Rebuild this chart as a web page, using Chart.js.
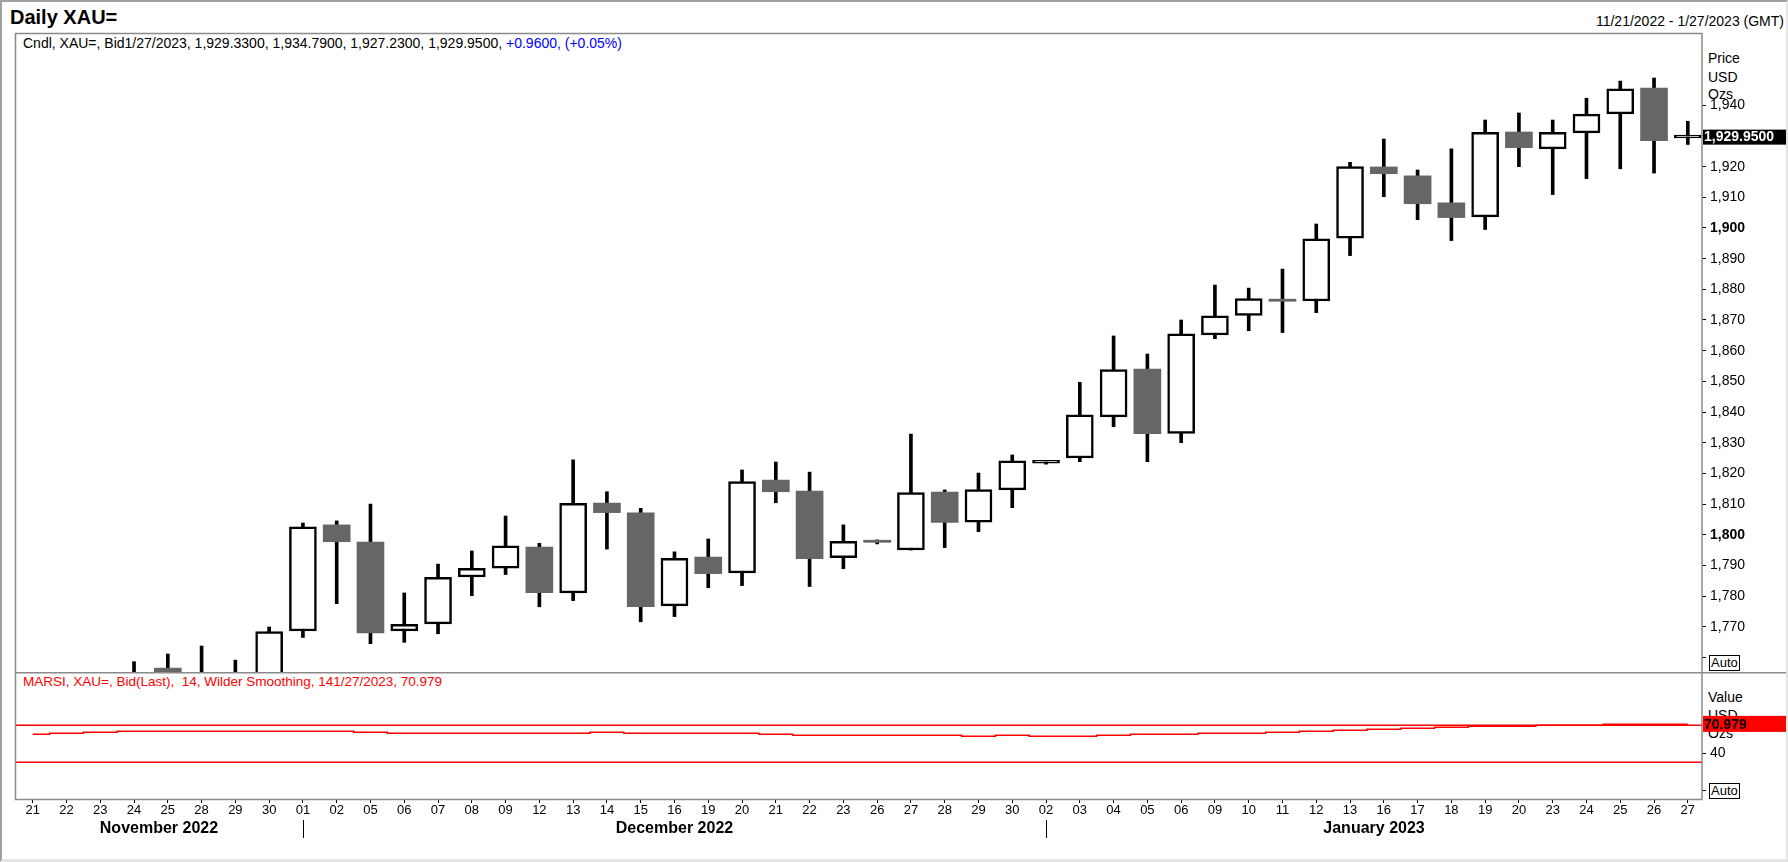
<!DOCTYPE html>
<html>
<head>
<meta charset="utf-8">
<script src="https://cdn.jsdelivr.net/npm/chart.js@4.4.1/dist/chart.umd.min.js"></script>
<style>
  body { margin: 0; background: #fff; }
  #wrap { position: relative; width: 1788px; height: 862px; overflow: hidden; font-family: "Liberation Sans", Arial, sans-serif; color: #000; }
  .lbl { position: absolute; white-space: nowrap; font-size: 14px; line-height: 16px; }
  .auto { position: absolute; font-size: 13px; line-height: 14px; border: 1px solid #000; padding: 0 1px; background: #fff; }
  canvas { position: absolute; left: 0; }
  #frame { position: absolute; left: 0; top: 0; width: 1788px; height: 862px; box-sizing: border-box;
           border-left: 2px solid #a0a0a0; border-top: 2px solid #a0a0a0;
           border-right: 2px solid #e4e4e4; border-bottom: 3px solid #e4e4e4; pointer-events: none; }
</style>
</head>
<body>
<div id="wrap">
  <div class="lbl" style="left:10px;top:6px;font-size:20px;line-height:22px;font-weight:bold;">Daily XAU=</div>
  <div class="lbl" style="right:4px;top:13px;">11/21/2022 - 1/27/2023 (GMT)</div>
  <div class="lbl" style="left:23px;top:35px;">Cndl, XAU=, Bid1/27/2023, 1,929.3300, 1,934.7900, 1,927.2300, 1,929.9500, <span style="color:#0000ff">+0.9600, (+0.05%)</span></div>
  <div class="lbl" style="left:23px;top:674px;color:#ff0000;font-size:13.5px;">MARSI, XAU=, Bid(Last),&nbsp; 14, Wilder Smoothing, 141/27/2023, 70.979</div>
  <div class="lbl" style="left:1708px;top:50px;">Price</div>
  <div class="lbl" style="left:1708px;top:69px;">USD</div>
  <div class="lbl" style="left:1708px;top:86px;">Ozs</div>
  <div class="lbl" style="left:1708px;top:689px;">Value</div>
  <div class="lbl" style="left:1708px;top:707px;">USD</div>
  <div class="lbl" style="left:1708px;top:725px;">Ozs</div>
  <div class="auto" style="left:1709px;top:655px;">Auto</div>
  <div class="auto" style="left:1709px;top:783px;">Auto</div>
  <canvas id="priceChart" width="1788" height="674" style="top:0;"></canvas>
  <canvas id="rsiChart" width="1788" height="190" style="top:672px;"></canvas>
  <div id="frame"></div>
</div>
<script>
const FONT = '"Liberation Sans", Arial, sans-serif';

const dayLabels = ['21','22','23','24','25','28','29','30',
  '01','02','05','06','07','08','09','12','13','14','15','16','19','20','21','22','23','26','27','28','29','30',
  '02','03','04','05','06','09','10','11','12','13','16','17','18','19','20','23','24','25','26','27'];
const monthNames = ['November 2022', 'December 2022', 'January 2023'];
const monthStarts = [0, 8, 30];

const opens = [1750.5, 1738.0, 1740.3, 1749.6, 1756.5, 1754.0, 1741.0, 1749.5,
  1768.6, 1803.2, 1797.6, 1768.6, 1770.9, 1786.2, 1789.1, 1796.0, 1781.0, 1810.3, 1807.1, 1776.8, 1792.7, 1787.5,
  1817.8, 1814.2, 1792.5, 1798.2, 1795.0, 1813.9, 1804.1, 1814.6,
  1823.3, 1825.0, 1838.4, 1854.0, 1833.0, 1865.1, 1871.5, 1876.8, 1876.2, 1896.7, 1919.9, 1917.0, 1908.2,
  1903.6, 1931.3, 1925.8, 1931.0, 1937.2, 1945.6, 1929.33];
const highs = [1754.0, 1746.0, 1754.5, 1758.6, 1761.1, 1763.7, 1759.1, 1769.9,
  1803.8, 1804.5, 1810.0, 1781.0, 1790.4, 1794.7, 1806.1, 1797.2, 1824.4, 1814.0, 1808.6, 1794.4, 1798.6, 1821.1,
  1823.7, 1820.4, 1803.2, 1798.3, 1832.8, 1814.6, 1820.1, 1826.0,
  1824.2, 1849.7, 1864.8, 1858.9, 1870.0, 1881.4, 1880.4, 1886.6, 1901.3, 1921.4, 1929.0, 1918.9, 1925.8,
  1935.2, 1937.5, 1935.2, 1942.3, 1947.9, 1948.9, 1934.79];
const lows = [1733.5, 1733.0, 1733.6, 1746.0, 1745.0, 1739.5, 1740.0, 1744.0,
  1766.5, 1777.5, 1764.5, 1764.9, 1767.7, 1780.1, 1787.0, 1776.5, 1778.5, 1795.3, 1771.6, 1773.3, 1782.7, 1783.4,
  1810.4, 1783.1, 1788.9, 1797.0, 1795.0, 1795.8, 1801.0, 1808.8,
  1823.0, 1823.8, 1835.2, 1823.8, 1830.0, 1863.9, 1866.5, 1865.9, 1872.4, 1891.0, 1910.2, 1902.7, 1895.9,
  1899.5, 1920.0, 1910.9, 1916.1, 1919.3, 1917.9, 1927.23];
const closes = [1737.9, 1740.3, 1749.6, 1754.7, 1754.0, 1741.0, 1749.5, 1768.4,
  1802.6, 1797.7, 1768.0, 1770.8, 1786.1, 1789.0, 1796.4, 1781.1, 1810.2, 1807.2, 1776.5, 1792.3, 1787.3, 1817.3,
  1814.0, 1792.2, 1797.8, 1797.5, 1813.7, 1804.0, 1814.7, 1824.1,
  1823.9, 1839.1, 1853.8, 1832.9, 1865.5, 1871.4, 1877.0, 1876.1, 1896.5, 1920.0, 1917.7, 1907.9, 1903.4,
  1931.2, 1926.2, 1931.2, 1937.1, 1945.4, 1928.5, 1929.95];

const rsiValues = [60.3, 61.4, 62.4, 63.5, 63.5, 63.5, 63.5, 63.5,
  63.5, 63.5, 62.4, 61.4, 61.4, 61.4, 61.4, 61.4, 61.4, 62.4, 61.4, 61.4, 61.4, 61.4,
  60.3, 59.2, 59.2, 59.2, 59.2, 59.2, 58.1, 59.2,
  58.1, 58.1, 59.2, 60.3, 60.3, 61.4, 61.4, 62.4, 63.5, 64.6, 65.7, 66.8, 67.9,
  69.0, 69.0, 70.0, 70.0, 71.0, 71.0, 70.979];
const rsiLevels = [70, 30];

const priceTicks = [1760, 1770, 1780, 1790, 1800, 1810, 1820, 1830, 1840, 1850, 1860, 1870, 1880, 1890, 1900, 1910, 1920, 1930, 1940];
const rsiTicks = [0, 40];

Chart.defaults.font.family = FONT;
Chart.defaults.color = '#000';

const idx = dayLabels.map((d, i) => i);
const xMin = -0.524, xMax = 49.42;
const last = idx.length - 1;

const wickData = idx.map(i => ({ x: i, y: [lows[i], highs[i]] }));
const upData = idx.filter(i => closes[i] >= opens[i]).map(i => ({ x: i, y: [opens[i], closes[i]] }));
const downData = idx.filter(i => closes[i] < opens[i]).map(i => ({ x: i, y: [opens[i], closes[i]] }));

// keep the axes from reserving room for half tick labels
function fixAxisY(s) { s.width = 86; s.paddingTop = 0; s.paddingBottom = 0; }
function fixAxisX(s) { s.height = 63; s.paddingLeft = 0; s.paddingRight = 0; }

const priceBox = {
  id: 'priceBox',
  afterDraw(chart) {
    const ctx = chart.ctx, a = chart.chartArea, ys = chart.scales.y;
    ctx.save();
    ctx.strokeStyle = '#8a8a8a';
    ctx.lineWidth = 1.5;
    ctx.beginPath();
    ctx.moveTo(a.left + 0.5, a.bottom);
    ctx.lineTo(a.left + 0.5, a.top - 0.5);
    ctx.lineTo(a.right, a.top - 0.5);
    ctx.lineTo(a.right, a.bottom);
    ctx.stroke();
    // last price marker
    const y = ys.getPixelForValue(closes[last]);
    ctx.fillStyle = '#000';
    ctx.fillRect(a.right + 1, y - 6.5, 83, 15);
    ctx.fillStyle = '#fff';
    ctx.font = 'bold 14px ' + FONT;
    ctx.textBaseline = 'middle';
    ctx.textAlign = 'left';
    ctx.fillText(closes[last].toLocaleString('en-US', { minimumFractionDigits: 4 }), a.right + 2, y + 1.5);
    ctx.restore();
  }
};

new Chart(document.getElementById('priceChart'), {
  type: 'bar',
  data: {
    datasets: [
      { data: wickData, backgroundColor: '#000', barThickness: 3, grouped: false, order: 3, clip: 0 },
      { data: downData, backgroundColor: '#666666', borderWidth: 0, barThickness: 27, minBarLength: 2, grouped: false, order: 2, clip: 0 },
      { data: upData, backgroundColor: '#fff', borderColor: '#000', borderWidth: 2.5, borderSkipped: false,
        barThickness: 27, minBarLength: 3, grouped: false, order: 1, clip: 0 }
    ]
  },
  options: {
    responsive: false,
    animation: false,
    devicePixelRatio: 1,
    layout: { padding: { left: 15, top: 34, right: 0, bottom: 2 } },
    plugins: { legend: { display: false }, tooltip: { enabled: false } },
    scales: {
      x: { type: 'linear', min: xMin, max: xMax, offset: false, grid: { offset: false }, display: false },
      y: {
        position: 'right',
        min: 1755.23, max: 1963.25,
        afterFit: fixAxisY,
        afterBuildTicks: s => { s.ticks = priceTicks.map(v => ({ value: v })); },
        ticks: {
          padding: 4,
          color: '#000',
          font: c => ({ size: 14, family: FONT, weight: c.tick && c.tick.value % 100 === 0 ? 'bold' : 'normal' }),
          callback: v => v === priceTicks[0] ? '' : v.toLocaleString('en-US')
        },
        grid: { drawOnChartArea: false, drawTicks: true, tickLength: 4, color: '#000' },
        border: { display: false }
      }
    }
  },
  plugins: [priceBox]
});

const rsiDeco = {
  id: 'rsiDeco',
  beforeDatasetsDraw(chart) {
    const ctx = chart.ctx, a = chart.chartArea, ys = chart.scales.y;
    ctx.save();
    ctx.strokeStyle = '#ff0000';
    ctx.lineWidth = 1.5;
    rsiLevels.forEach(lv => {
      const y = ys.getPixelForValue(lv);
      ctx.beginPath();
      ctx.moveTo(a.left, y);
      ctx.lineTo(a.right, y);
      ctx.stroke();
    });
    ctx.restore();
  },
  afterDraw(chart) {
    const ctx = chart.ctx, a = chart.chartArea, xs = chart.scales.x, ys = chart.scales.y;
    ctx.save();
    // panel box and separator
    ctx.strokeStyle = '#8a8a8a';
    ctx.lineWidth = 1.5;
    ctx.beginPath();
    ctx.moveTo(a.left, 0.75);
    ctx.lineTo(chart.width, 0.75);
    ctx.moveTo(a.left + 0.5, 0);
    ctx.lineTo(a.left + 0.5, a.bottom + 0.5);
    ctx.lineTo(a.right, a.bottom + 0.5);
    ctx.lineTo(a.right, 0);
    ctx.stroke();
    // month labels and separators
    ctx.fillStyle = '#000';
    ctx.strokeStyle = '#000';
    ctx.lineWidth = 1;
    ctx.font = 'bold 16px ' + FONT;
    ctx.textAlign = 'center';
    ctx.textBaseline = 'middle';
    monthNames.forEach((name, m) => {
      const from = m === 0 ? xs.min : monthStarts[m];
      const to = m < monthNames.length - 1 ? monthStarts[m + 1] : xs.max;
      ctx.fillText(name, xs.getPixelForValue((from + to) / 2), 157);
      if (m > 0) {
        const x = Math.round(xs.getPixelForValue(monthStarts[m])) + 0.5;
        ctx.beginPath();
        ctx.moveTo(x, 148);
        ctx.lineTo(x, 166);
        ctx.stroke();
      }
    });
    // last value marker
    const y = ys.getPixelForValue(rsiValues[last]);
    ctx.fillStyle = '#ff0000';
    ctx.fillRect(a.right + 1, y - 8.5, 83, 16);
    ctx.fillStyle = '#000';
    ctx.font = 'bold 14px ' + FONT;
    ctx.textAlign = 'left';
    ctx.fillText(rsiValues[last].toFixed(3), a.right + 2, y + 0.5);
    ctx.restore();
  }
};

new Chart(document.getElementById('rsiChart'), {
  type: 'line',
  data: {
    datasets: [{
      data: idx.map(i => ({ x: i, y: rsiValues[i] })),
      borderColor: '#ff0000',
      borderWidth: 1.5,
      pointRadius: 0,
      stepped: 'middle',
      clip: 0
    }]
  },
  options: {
    responsive: false,
    animation: false,
    devicePixelRatio: 1,
    layout: { padding: { left: 15, top: 0, right: 0, bottom: 0 } },
    plugins: { legend: { display: false }, tooltip: { enabled: false } },
    scales: {
      x: {
        type: 'linear', min: xMin, max: xMax, offset: false,
        afterFit: fixAxisX,
        afterBuildTicks: s => { s.ticks = idx.map(i => ({ value: i })); },
        ticks: { autoSkip: false, maxRotation: 0, padding: 0, color: '#000', font: { size: 13 }, callback: v => dayLabels[v] },
        grid: { drawOnChartArea: false, drawTicks: true, tickLength: 4, color: '#000' },
        border: { display: false }
      },
      y: {
        position: 'right',
        min: -9.7, max: 127.6,
        afterFit: fixAxisY,
        afterBuildTicks: s => { s.ticks = rsiTicks.map(v => ({ value: v })); },
        ticks: { padding: 4, color: '#000', font: { size: 14 }, callback: v => v === 0 ? '' : String(v) },
        grid: { drawOnChartArea: false, drawTicks: true, tickLength: 4, color: '#000' },
        border: { display: false }
      }
    }
  },
  plugins: [rsiDeco]
});
</script>
</body>
</html>
